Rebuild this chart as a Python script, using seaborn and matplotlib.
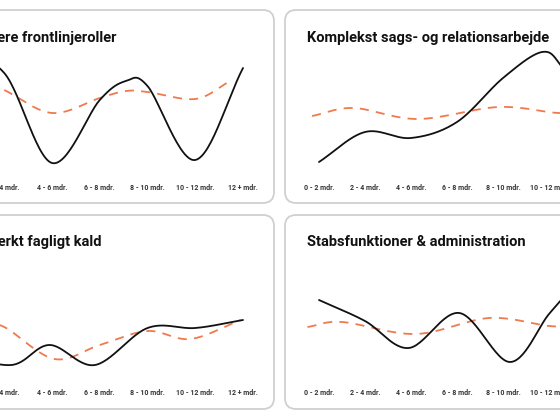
import numpy as np
import pandas as pd
import matplotlib
matplotlib.use("Agg")
import matplotlib.pyplot as plt
from matplotlib.patches import FancyBboxPatch
import seaborn as sns

sns.set_style("white")
plt.rcParams['font.family'] = ['Roboto', 'DejaVu Sans']

categories = ["0 - 2 mdr.", "2 - 4 mdr.", "4 - 6 mdr.", "6 - 8 mdr.",
              "8 - 10 mdr.", "10 - 12 mdr.", "12 + mdr."]

titles = ["Borgernære frontlinjeroller", "Komplekst sags- og relationsarbejde",
          "Roller med stærkt fagligt kald", "Stabsfunktioner & administration"]

# black series (x positions in category index, values on a 0-150 score)
black_x_tl = [0, 1, 2, 3, 3.55, 4, 5, 6]
black_y_tl = [125, 105, 15, 78, 97, 92, 18, 110]
orange_x_tl = [1, 2, 3, 3.55, 4, 5, 5.7]
orange_y_tl = [88, 65, 80, 87, 86, 79, 96]

black_x_tr = [0, 1, 2, 3, 4, 4.85, 5.3, 6]
black_y_tr = [16, 46, 40, 56, 100, 126, 110, 60]
orange_x_tr = [-0.15, 0.75, 2.15, 3.9, 5.2, 6]
orange_y_tr = [62, 70, 59, 71, 65, 66]

black_x_bl = [0, 1.15, 1.95, 2.9, 4, 5, 6]
black_y_bl = [30, 18, 38, 18, 55, 55, 63]
orange_x_bl = [0.5, 1, 2.05, 3, 4, 4.9, 5.95]
orange_y_bl = [60, 56, 24, 38, 52, 44, 63]

black_x_br = [0, 1, 1.95, 3.05, 4.15, 5, 5.6]
black_y_br = [83, 62, 35, 70, 21, 69, 100]
orange_x_br = [-0.25, 0.5, 2.1, 3.7, 5.0, 5.6]
orange_y_br = [56, 61, 49, 65, 57, 57]


def smooth(xs, ys, n=30):
    xs = np.asarray(xs, float); ys = np.asarray(ys, float)
    px = np.concatenate([[2*xs[0]-xs[1]], xs, [2*xs[-1]-xs[-2]]])
    py = np.concatenate([[2*ys[0]-ys[1]], ys, [2*ys[-1]-ys[-2]]])
    ox, oy = [], []
    for i in range(1, len(px)-2):
        t = np.linspace(0, 1, n, endpoint=False)
        for arr, out in ((px, ox), (py, oy)):
            p0, p1, p2, p3 = arr[i-1], arr[i], arr[i+1], arr[i+2]
            out.extend(0.5*((2*p1) + (-p0+p2)*t + (2*p0-5*p1+4*p2-p3)*t**2
                            + (-p0+3*p1-3*p2+p3)*t**3))
    ox.append(xs[-1]); oy.append(ys[-1])
    return np.array(ox), np.array(oy)


W, H = 560, 420
fig = plt.figure(figsize=(5.6, 4.2), dpi=100)

def fx(px): return px / W
def fy(py): return 1 - py / H

# background axes for panel boxes
bg = fig.add_axes([0, 0, 1, 1], zorder=0)
bg.set_xlim(0, W); bg.set_ylim(H, 0); bg.axis("off")
boxes = [(-20, 10, 274, 203), (285, 10, 590, 203), (-20, 215, 274, 409), (285, 215, 590, 409)]
for (x0, y0, x1, y1) in boxes:
    bg.add_patch(FancyBboxPatch((x0, y0), x1 - x0, y1 - y0,
                                boxstyle="round,pad=0,rounding_size=11",
                                facecolor="white", edgecolor="#d0d0d0", linewidth=1.3))

panels = [
    (-43.5, 47.75, 178, black_x_tl, black_y_tl, orange_x_tl, orange_y_tl),
    (319, 46.0, 178, black_x_tr, black_y_tr, orange_x_tr, orange_y_tr),
    (-43.5, 47.75, 383, black_x_bl, black_y_bl, orange_x_bl, orange_y_bl),
    (319, 46.0, 383, black_x_br, black_y_br, orange_x_br, orange_y_br),
]
for k, (x0, s, yb, bx, by, ox, oy) in enumerate(panels):
    left = x0 - 0.5 * s
    width = 7 * s
    ax = fig.add_axes([fx(left), fy(yb), fx(width), 150 / H], zorder=2)
    ax.patch.set_alpha(0)
    sx, sy = smooth(ox, oy)
    sns.lineplot(x=sx, y=sy, ax=ax, color="#EE7A4E", linewidth=1.3, sort=False)
    ax.lines[-1].set_dashes((5, 4))
    sx, sy = smooth(bx, by)
    sns.lineplot(x=sx, y=sy, ax=ax, color="#111111", linewidth=1.3, sort=False)
    ax.set_xlim(-0.5, 6.5)
    ax.set_ylim(0, 150)
    ax.set_xticks(range(7))
    ax.set_xticklabels(categories, fontsize=5, fontweight="bold", color="#333333")
    ax.tick_params(axis="x", length=0, pad=4)
    ax.set_yticks([])
    for sp in ax.spines.values():
        sp.set_visible(False)

tkw = dict(va="center", fontsize=10.5, fontweight="bold", color="#111111")
bg.text(117, 38, titles[0], ha="right", **tkw)
bg.text(307, 38, titles[1], ha="left", **tkw)
bg.text(102, 242, titles[2], ha="right", **tkw)
bg.text(307, 242, titles[3], ha="left", **tkw)

fig.savefig("out.png", dpi=100)
